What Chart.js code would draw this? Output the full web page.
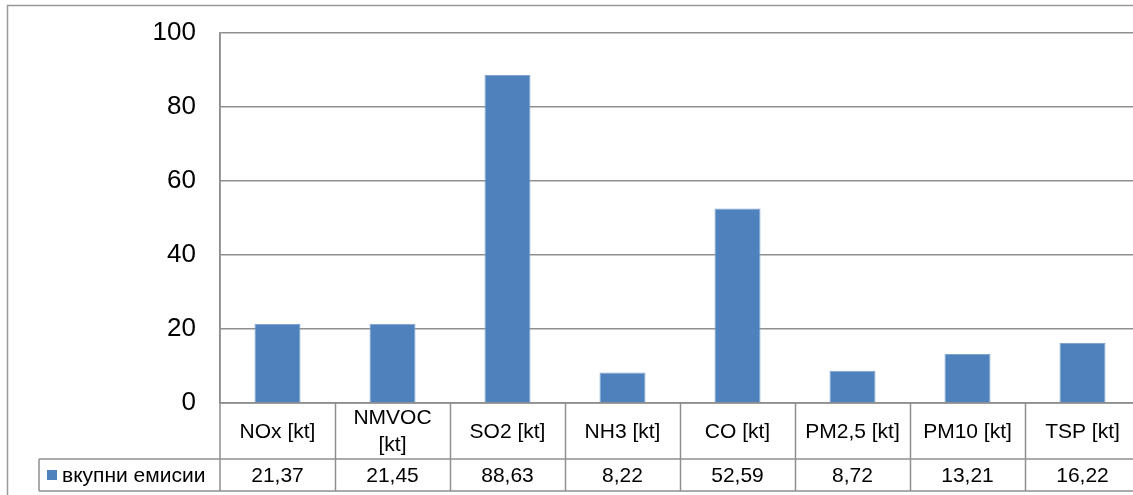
<!DOCTYPE html>
<html>
<head>
<meta charset="utf-8">
<script src="https://cdn.jsdelivr.net/npm/chart.js@4/dist/chart.umd.min.js"></script>
<style>
  html, body { margin: 0; padding: 0; background: #fff; overflow: hidden; }
  #wrap { width: 1133px; height: 495px; overflow: hidden; position: relative; }
  #wrap canvas { position: absolute; left: 0; top: 0; }
</style>
</head>
<body>
<div id="wrap"><canvas id="c" width="1160" height="495" style="width:1160px;height:495px"></canvas></div>
<script>
// Pollutant categories and total emissions (kt)
const categories = ['NOx [kt]', 'NMVOC [kt]', 'SO2 [kt]', 'NH3 [kt]', 'CO [kt]', 'PM2,5 [kt]', 'PM10 [kt]', 'TSP [kt]'];
const seriesName = 'вкупни емисии';
const totals = [21.37, 21.45, 88.63, 8.22, 52.59, 8.72, 13.21, 16.22];
const yTicks = [0, 20, 40, 60, 80, 100];

const FONT = '"Liberation Sans", Arial, sans-serif';
const GRID = '#8f8f8f';
const BLUE = '#4f81bd';

const fmt = v => v.toFixed(2).replace('.', ',');

// Frame and data table beneath the plot
const tablePlugin = {
  id: 'dataTable',
  afterDraw(chart) {
    const ctx = chart.ctx;
    const area = chart.chartArea;
    const x = chart.scales.x;
    const n = chart.data.labels.length;
    const step = (area.right - area.left) / n;
    const y0 = area.bottom;          // top of header row
    const y1 = y0 + 56;              // header/value boundary
    const y2 = y1 + 32;              // bottom of value row
    const legendLeft = 39;

    ctx.save();
    // outer frame (left and top edges)
    ctx.strokeStyle = '#999';
    ctx.lineWidth = 1.5;
    ctx.beginPath();
    ctx.moveTo(7.5, 600); ctx.lineTo(7.5, 5.5); ctx.lineTo(1200, 5.5);
    ctx.stroke();

    ctx.strokeStyle = GRID;
    ctx.lineWidth = 1.5;
    ctx.beginPath();
    // vertical axis line through table
    ctx.moveTo(area.left, area.top); ctx.lineTo(area.left, y2);
    // column separators
    for (let i = 1; i <= n; i++) {
      const xx = Math.round(area.left + i * step) + 0.5;
      ctx.moveTo(xx, y0); ctx.lineTo(xx, y2);
    }
    // horizontals
    ctx.moveTo(area.left, y0); ctx.lineTo(area.right + 20, y0);
    ctx.moveTo(legendLeft, y1); ctx.lineTo(area.right + 20, y1);
    ctx.moveTo(legendLeft, y2); ctx.lineTo(area.right + 20, y2);
    // legend cell left edge
    ctx.moveTo(legendLeft, y1); ctx.lineTo(legendLeft, y2);
    ctx.stroke();

    ctx.fillStyle = '#000';
    ctx.font = '21px ' + FONT;
    ctx.textAlign = 'center';
    ctx.textBaseline = 'middle';
    const ds = chart.data.datasets[0];
    chart.data.labels.forEach((lab, i) => {
      const cx = x.getPixelForValue(i);
      // header label, wrapped if too wide
      if (ctx.measureText(lab).width > step - 10 && lab.indexOf(' ') > 0) {
        const k = lab.indexOf(' ');
        ctx.fillText(lab.slice(0, k), cx, (y0 + y1) / 2 - 13);
        ctx.fillText(lab.slice(k + 1), cx, (y0 + y1) / 2 + 14);
      } else {
        ctx.fillText(lab, cx, (y0 + y1) / 2 + 1);
      }
      ctx.fillText(fmt(ds.data[i]), cx, (y1 + y2) / 2 + 1);
    });

    // legend key in first cell
    ctx.fillStyle = BLUE;
    ctx.fillRect(47, (y1 + y2) / 2 - 5, 10, 10);
    ctx.fillStyle = '#000';
    ctx.textAlign = 'left';
    ctx.fillText(ds.label, 62, (y1 + y2) / 2 + 1);
    ctx.restore();
  }
};

new Chart(document.getElementById('c'), {
  type: 'bar',
  data: {
    labels: categories,
    datasets: [{
      label: seriesName,
      data: totals,
      backgroundColor: BLUE,
      borderColor: '#7fa3cf',
      borderWidth: { top: 1, left: 1, right: 1, bottom: 0 },
      categoryPercentage: 1.0,
      barPercentage: 0.4
    }]
  },
  options: {
    responsive: false,
    animation: false,
    layout: { padding: { left: 0, top: 33, right: 20, bottom: 92 } },
    plugins: { legend: { display: false }, tooltip: { enabled: false } },
    scales: {
      x: { display: false },
      y: {
        min: 0, max: 100,
        afterBuildTicks: s => { s.ticks = yTicks.map(v => ({ value: v })); },
        afterFit: s => { s.width = 220; },
        grid: { color: GRID, lineWidth: 1.5, drawTicks: true, tickLength: 24, tickColor: 'rgba(0,0,0,0)' },
        border: { display: true, color: GRID, width: 1.5 },
        ticks: { color: '#000', font: { family: FONT, size: 26 }, padding: 0 }
      }
    }
  },
  plugins: [tablePlugin]
});
</script>
</body>
</html>
